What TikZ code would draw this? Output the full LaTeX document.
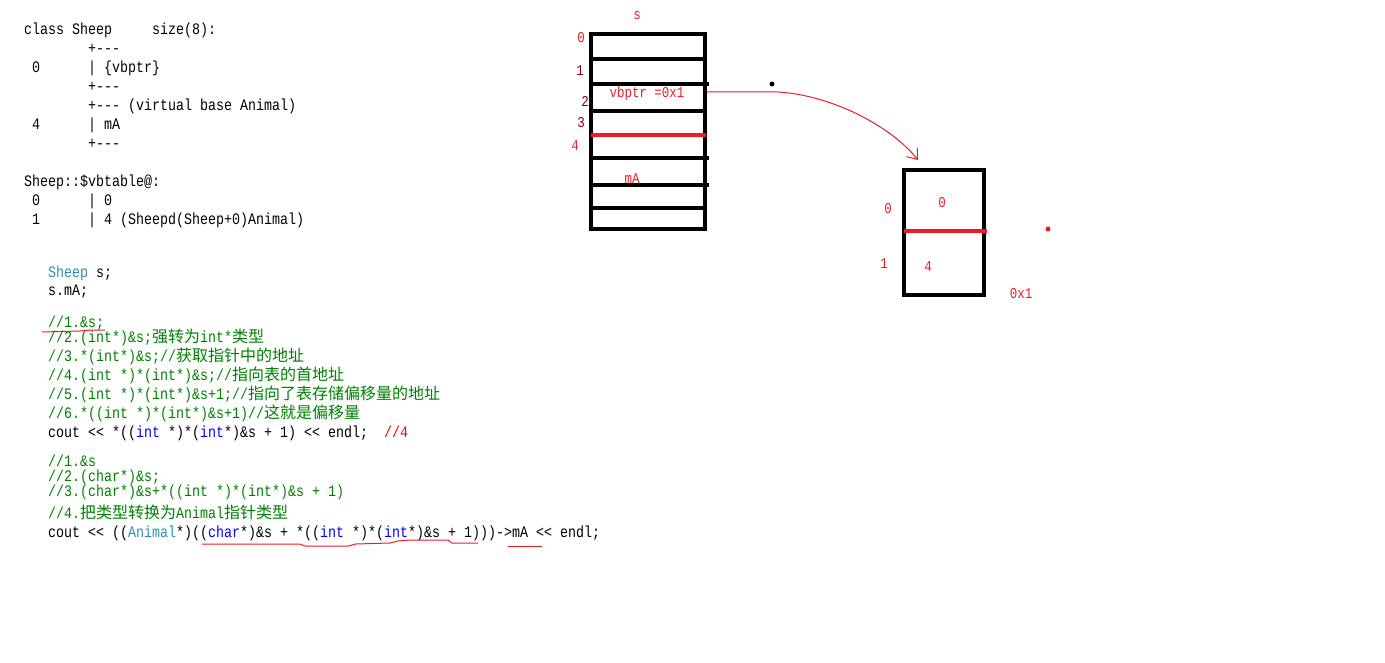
\documentclass[tikz,border=0pt]{standalone}
\usepackage{fontspec}
\setmonofont[FakeStretch=0.8333]{Liberation Mono}
\newfontfamily\cjk{Noto Sans CJK SC}
\usepackage{xcolor}
\usetikzlibrary{arrows.meta, positioning, calc}
\definecolor{paintred}{HTML}{ED1C24}
\definecolor{darkred}{HTML}{880015}
\definecolor{codegreen}{HTML}{008000}
\definecolor{typeteal}{HTML}{2B91AF}
\definecolor{keyblue}{HTML}{0000FF}

\begin{document}
\begin{tikzpicture}[
    x=1pt, y=-1pt,
    code/.style={
        anchor=base west,
        inner sep=0pt,
        font=\fontsize{16}{19}\selectfont\ttfamily
    },
    comment/.style={
        code,
        text=codegreen
    },
    memlabel/.style={
        inner sep=0pt,
        text=paintred,
        font=\fontsize{15}{18}\selectfont\ttfamily
    },
    cell/.style={
        draw,
        line width=4pt,
        inner sep=0pt
    },
    slot/.style={line width=4pt},
    divider/.style={line width=4pt, paintred},
    underline/.style={paintred, line width=1pt},
    pointer/.style={
        -{Straight Barb[length=9pt,width=14pt]},
        paintred,
        line width=1pt
    }
]
    \useasboundingbox (0,0) rectangle (1385,663);

    % layout dump
    \node[code] (cls) at (24,35) {class Sheep};
    \node[code] (size) at (152,35) {size(8):};
    \node[code] (b1) at (88,54) {+---};
    \node[code] (o0) at (32,73) {0};
    \node[code] (vb) at (88,73) {| \{vbptr\}};
    \node[code] (b2) at (88,92) {+---};
    \node[code] (b3) at (88,111) {+--- (virtual base Animal)};
    \node[code] (o4) at (32,130) {4};
    \node[code] (fa) at (88,130) {| mA};
    \node[code] (b4) at (88,149) {+---};
    \node[code] (vbt) at (24,187) {Sheep::\$vbtable@:};
    \node[code] (i0) at (32,206) {0};
    \node[code] (e0) at (88,206) {| 0};
    \node[code] (i1) at (32,225) {1};
    \node[code] (e1) at (88,225) {| 4 (Sheepd(Sheep+0)Animal)};

    % offset through the vbtable
    \node[code] (decl) at (48,277) {\textcolor{typeteal}{Sheep} s;};
    \node[code] (use) at (48,296) {s.mA;};
    \node[comment] (c1) at (48,327) {//1.\&s;};
    \node[comment] (c2) at (48,342) {//2.(int*)\&s;{\cjk 强转为}int*{\cjk 类型}};
    \node[comment] (c3) at (48,361) {//3.*(int*)\&s;//{\cjk 获取指针中的地址}};
    \node[comment] (c4) at (48,380) {//4.(int *)*(int*)\&s;//{\cjk 指向表的首地址}};
    \node[comment] (c5) at (48,399) {//5.(int *)*(int*)\&s+1;//{\cjk 指向了表存储偏移量的地址}};
    \node[comment] (c6) at (48,418) {//6.*((int *)*(int*)\&s+1)//{\cjk 这就是偏移量}};
    \node[code] (out1) at (48,437) {cout << *((\textcolor{keyblue}{int} *)*(\textcolor{keyblue}{int}*)\&s + 1) << endl;~~\textcolor{red}{//4}};

    % reaching mA
    \node[comment] (d1) at (48,466) {//1.\&s};
    \node[comment] (d2) at (48,481) {//2.(char*)\&s;};
    \node[comment] (d3) at (48,496) {//3.(char*)\&s+*((int *)*(int*)\&s + 1)};
    \node[comment] (d4) at (48,518) {//4.{\cjk 把类型转换为}Animal{\cjk 指针类型}};
    \node[code] (out2) at (48,537) {cout << ((\textcolor{typeteal}{Animal}*)((\textcolor{keyblue}{char}*)\&s + *((\textcolor{keyblue}{int} *)*(\textcolor{keyblue}{int}*)\&s + 1)))->mA << endl;};

    \draw[underline] (42,332) -- (80,331) -- (92,330) -- (105,330);
    \draw[underline] (202,544) -- (300,544) -- (305,546) -- (348,546) -- (356,544)
        -- (390,543) -- (398,541) -- (410,540) -- (448,540) -- (452,543) -- (478,543);
    \draw[underline] (508,546) -- (542,546);

    % object s
    \node[cell, minimum width=113.4pt, minimum height=194.7pt] (s) at (648,131.6) {};
    \foreach \y/\x in {59/705, 84/709, 111/705, 158/709, 185/709, 208/705}
        \draw[slot] (591,\y) -- (\x,\y);
    \draw[divider] (591,135) -- (706,135);

    \node[memlabel] (sname) at (637,16) {s};
    \node[memlabel] (s0) at (581,38) {0};
    \node[memlabel, text=darkred] (s1) at (580,71) {1};
    \node[memlabel, text=darkred] (s2) at (585,101) {2};
    \node[memlabel, text=darkred] (s3) at (581,123) {3};
    \node[memlabel] (s4) at (575,146) {4};
    \node[memlabel] (vbptr) at (647,94) {vbptr =0x1};
    \node[memlabel] (ma) at (632,179) {mA};

    % vbtable at 0x1
    \node[cell, minimum width=80pt, minimum height=124.4pt] (vbtable) at (943.7,232.5) {};
    \draw[divider] (904,231) -- (987,231);

    \node[memlabel] (t0) at (888,209) {0};
    \node[memlabel] (v0) at (942,203) {0};
    \node[memlabel] (t1) at (884,264) {1};
    \node[memlabel] (v1) at (928,267) {4};
    \node[memlabel] (addr) at (1021,294) {0x1};

    \coordinate (ptr) at (707,92);
    \coordinate (tip) at (918,160);
    \draw[pointer] (ptr) -- (778,92) .. controls (830,95) and (890,125) .. (tip);

    \fill (772,84) circle (2.5pt);
    \fill[paintred] (1048,229) circle (2.5pt);
\end{tikzpicture}
\end{document}
